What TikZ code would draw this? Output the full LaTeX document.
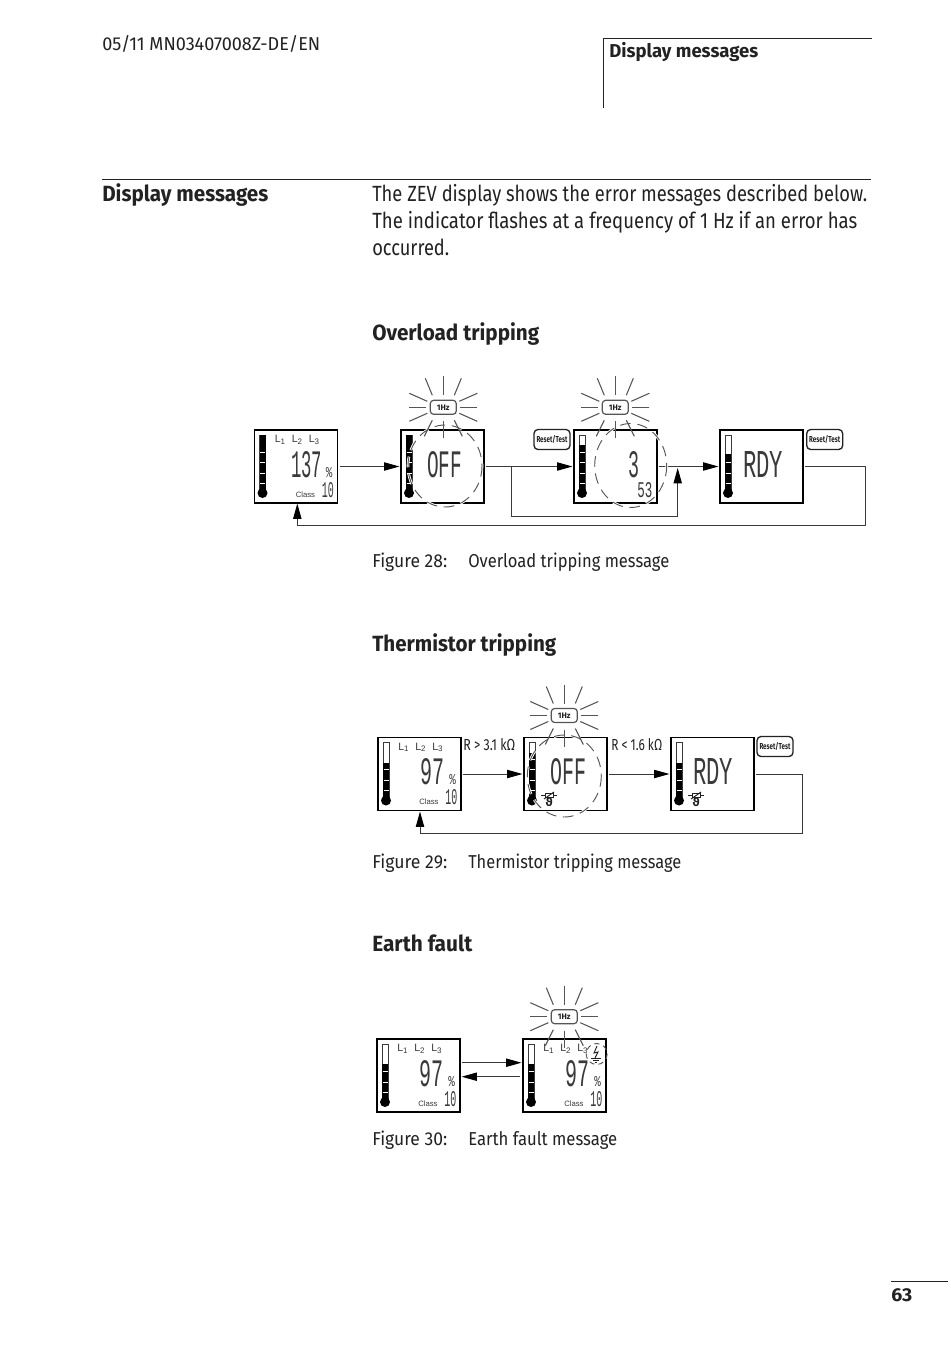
\documentclass[tikz,border=0pt]{standalone}
\usepackage{fontspec}
\usepackage{graphicx}
\setmainfont{Fira Sans}
\newfontfamily\lcdfont{Liberation Mono}
\newfontfamily\lblfont{Liberation Sans}
\newfontfamily\symfont{DejaVu Sans}
\usetikzlibrary{arrows.meta}
\definecolor{ink}{HTML}{222222}
\definecolor{lcdink}{HTML}{3a3a3a}
\definecolor{raycol}{HTML}{555555}
\newcount\nn
\newcommand\nxt{\global\advance\nn by 1\relax}
\newcommand\pxd[1]{\dimexpr#1pt*3/4\relax}
% text fitted to a width in px, base-left anchored
\newcommand\txt[5]{\nxt\node[anchor=base west,inner sep=0pt,text=ink,font=\fontsize{#4}{#4}\selectfont] (t\the\nn) at (#1,#2) {\resizebox{\pxd{#3}}{\height}{#5}};}
% lcd characters: x1,y1 width height text
\newcommand\dg[5]{\nxt\node[anchor=north west,inner sep=0pt,text=lcdink,font=\lcdfont\fontsize{24}{24}\selectfont] (t\the\nn) at (#1,#2) {\resizebox{\pxd{#3}}{\pxd{#4}}{#5}};}
\newcommand\resettxt{\resizebox{\pxd{31}}{\height}{\bfseries Reset/Test}}
\tikzset{
  x=0.75pt,y=-0.75pt,
  lcdbox/.style={draw=black,line width=1.3pt,fill=white,minimum width=62.25pt,minimum height=54.75pt,inner sep=0pt},
  link/.style={draw=lcdink,line width=0.75pt},
  arrow/.style={link,-{Triangle[length=11.5pt,width=6.2pt,color=black]}},
  rayline/.style={draw=raycol,line width=0.8pt},
  hzbox/.style={draw=raycol,line width=0.9pt,rounded corners=2.5pt,fill=white,minimum width=19.5pt,minimum height=10.5pt,inner sep=0pt,text=ink,font=\fontsize{6}{6}\selectfont\bfseries},
  resetbox/.style={draw=ink,line width=1pt,rounded corners=3pt,fill=white,minimum width=27pt,minimum height=15pt,inner sep=0pt,text=ink,font=\fontsize{6.5}{6.5}\selectfont},
  dashring/.style={draw=raycol,line width=0.7pt,dash pattern=on 8pt off 5pt},
  dashhalo/.style={draw=white,line width=2pt,dash pattern=on 8pt off 5pt},
  smalllab/.style={anchor=base west,inner sep=0pt,text=lcdink,font=\lblfont\fontsize{8}{8}\selectfont},
  classlab/.style={anchor=base west,inner sep=0pt,text=lcdink,font=\lblfont\fontsize{5.8}{5.8}\selectfont},
  ruleline/.style={draw=ink,line width=0.6pt},
}
% name x y filltop
\newcommand\lcd[4]{%
  \node[lcdbox] (#1) at (#2+41.5,#3+36.5) {};
  \begin{scope}[shift={(#2,#3)}]
    \draw[draw=lcdink,line width=0.6pt,fill=white] (5,5) rectangle (11,60);
    \fill[black] (5,#4) rectangle (11,60);
    \foreach \ty in {22,32,43,53} {\ifnum\ty>#4 \draw[white,line width=0.7pt] (5.5,\ty) -- (10.5,\ty);\fi}
    \fill[black] (8,63) circle (5);
  \end{scope}}
\newcommand\ells[2]{\begin{scope}[shift={(#1,#2)}]
  \nxt\node[smalllab] (t\the\nn) at (20,12.5) {L\textsubscript{1}};
  \nxt\node[smalllab] (t\the\nn) at (37,12.5) {L\textsubscript{2}};
  \nxt\node[smalllab] (t\the\nn) at (54,12.5) {L\textsubscript{3}};
  \end{scope}}
\newcommand\clsten[2]{\begin{scope}[shift={(#1,#2)}]
  \nxt\node[classlab] (t\the\nn) at (41,67) {Class};
  \dg{67}{52}{12}{15}{10}
  \dg{71}{37}{6.5}{10}{\%}
  \end{scope}}
% rays
\newcommand\rays[3]{%
  \begin{scope}[shift={(#1,#2)}]
    \foreach \a/\b/\c/\d in {0/-31/0/-12,-18/-29/-11/-12,18/-29/11/-12,-34/-14/-16/-6,34/-14/16/-6,-34/0/-17/0,34/0/17/0,-34/14/-16/6,34/14/16/6,0/14/0/31,-11/13/-19/29,11/13/19/29}
      {\draw[rayline] (\a,\b) -- (\c,\d);}
    \node[hzbox] (#3) at (0,0) {1Hz};
  \end{scope}}
\newcommand\ring[4]{%
  \draw[dashhalo] (#1,#2) ellipse [x radius=#3,y radius=#4];
  \draw[dashring] (#1,#2) ellipse [x radius=#3,y radius=#4];}
\newcommand\thermsym[2]{\begin{scope}[shift={(#1,#2)}]
  \draw[ink,line width=0.7pt] (0,2.5) -- (16,2.5);
  \draw[ink,line width=0.7pt,fill=white] (4,0.5) rectangle (12,4.5);
  \draw[ink,line width=0.7pt] (3,6) -- (13,-1);
  \nxt\node[inner sep=0pt,text=ink,font=\symfont\fontsize{8.5}{8.5}\selectfont\bfseries] (t\the\nn) at (8,9.5) {ϑ};
  \end{scope}}
\begin{document}
\begin{tikzpicture}
\useasboundingbox (0,0) rectangle (950,1345);
\fill[white] (0,0) rectangle (950,1345);
% page furniture
\coordinate (rt) at (872,38); \coordinate (rl) at (603,38); \coordinate (rb) at (603,108);
\draw[ruleline] (rt) -- (rl) -- (rb);
\coordinate (ma) at (102,179); \coordinate (mb) at (871,179);
\draw[ruleline] (ma) -- (mb);
\coordinate (pa) at (891,1281); \coordinate (pb) at (948,1281);
\draw[ruleline] (pa) -- (pb);
\txt{102}{51}{218}{14}{05/11 MN03407008Z-DE/EN}
\txt{609}{58}{149}{14}{\bfseries Display messages}
\txt{102}{201}{166}{16.5}{\bfseries Display messages}
\txt{372}{201}{495}{16.5}{The ZEV display shows the error messages described below.}
\txt{372}{228}{485}{16.5}{The indicator flashes at a frequency of 1 Hz if an error has}
\txt{372}{255}{77}{16.5}{occurred.}
\txt{372}{340}{167}{16.5}{\bfseries Overload tripping}
\txt{372}{567}{75}{14}{Figure 28:}
\txt{468}{567}{201}{14}{Overload tripping message}
\txt{372}{651}{184}{16.5}{\bfseries Thermistor tripping}
\txt{372}{868}{75}{14}{Figure 29:}
\txt{468}{868}{213}{14}{Thermistor tripping message}
\txt{372}{951}{100}{16.5}{\bfseries Earth fault}
\txt{372}{1145}{75}{14}{Figure 30:}
\txt{468}{1145}{149}{14}{Earth fault message}
\txt{891}{1301}{21}{14}{\bfseries 63}
% ---- Figure 28
\lcd{a1}{254.5}{430}{5}
\ells{254.5}{430}\clsten{254.5}{430}
\dg{291}{451}{31}{26}{137}
\lcd{a2}{401}{430}{5}
\dg{427}{451}{35}{26}{OFF}
\lcd{a3}{574}{430}{15}
\dg{628}{451}{11}{26}{3}
\dg{637}{482}{15}{15}{53}
\lcd{a4}{720}{430}{24}
\dg{743}{451}{40}{26}{RDY}
\node[resetbox] (r1) at (552,439.5) {\resettxt};
\node[resetbox] (r2) at (824.7,439.5) {\resettxt};
\draw[arrow,shorten <=1.5pt,shorten >=0.5pt] (a1) -- (a2);
\draw[arrow,shorten <=0.5pt,shorten >=0.5pt] (a2) -- (a3);
\draw[arrow,shorten <=0.5pt,shorten >=0.5pt] (a3) -- (a4);
\coordinate (j1) at (511.7,466.5); \coordinate (j2) at (511.7,516); \coordinate (j3) at (677.7,516); \coordinate (j4) at (677.7,468);
\draw[arrow] (j1) -- (j2) -- (j3) -- (j4);
\coordinate (k1) at (865,466.5); \coordinate (k2) at (865,525.5); \coordinate (k3) at (297.3,525.5); \coordinate (k4) at (297.3,503.5);
\draw[link,shorten <=1pt] (a4) -- (k1) -- (k2) -- (k3);
\draw[arrow] (k3) -- (k4);
\ring{445}{466}{37}{41}
\rays{443.3}{407.3}{h1}
\ring{630.7}{465.5}{36}{42}
\rays{615.3}{407.3}{h2}
% ---- Figure 29
\lcd{b1}{378}{737.5}{25}
\ells{378}{737.5}\clsten{378}{737.5}
\dg{420}{758}{24}{26}{97}
\lcd{b2}{524}{737.5}{15}
\dg{550}{758}{36}{26}{OFF}
\thermsym{541}{793}
\lcd{b3}{671}{737.5}{25}
\dg{693}{758}{40}{26}{RDY}
\thermsym{688}{793}
\node[resetbox] (r3) at (775,746.5) {\resettxt};
\txt{463}{750}{52}{12}{R > 3.1 kΩ}
\txt{611}{750}{51}{12}{R < 1.6 kΩ}
\draw[arrow,shorten <=0.5pt,shorten >=0.5pt] (b1) -- (b2);
\draw[arrow,shorten <=0.5pt,shorten >=0.5pt] (b2) -- (b3);
\coordinate (m1) at (802,774); \coordinate (m2) at (802,833); \coordinate (m3) at (420,833); \coordinate (m4) at (420,811.5);
\draw[link,shorten <=1pt] (b3) -- (m1) -- (m2) -- (m3);
\draw[arrow] (m3) -- (m4);
\ring{564.3}{776}{37}{41}
\rays{564.3}{715.5}{h3}
% ---- Figure 30
\lcd{c1}{377}{1039}{25}
\ells{377}{1039}\clsten{377}{1039}
\dg{419}{1060}{24}{26}{97}
\lcd{c2}{523}{1039}{25}
\ells{523}{1039}\clsten{523}{1039}
\dg{565}{1060}{24}{26}{97}
\draw[arrow,shorten >=0.5pt] ([yshift=9.6pt]c1.east) ++(1,0) -- ([yshift=9.6pt]c2.west);
\draw[arrow,shorten >=0.5pt] ([yshift=-0.9pt]c2.west) ++(-2,0) -- ([yshift=-0.9pt]c1.east);
\draw[dashring,dash pattern=on 4pt off 3pt] (596.7,1054) circle (10.5);
\draw[ink,line width=0.7pt] (597,1046) -- (594,1053) -- (598,1052) -- (595,1058);
\draw[ink,line width=0.7pt] (591,1058) -- (601,1058) (593,1060) -- (599,1060) (595,1062) -- (597,1062);
\rays{564.3}{1016.7}{h4}
\end{tikzpicture}
\end{document}
